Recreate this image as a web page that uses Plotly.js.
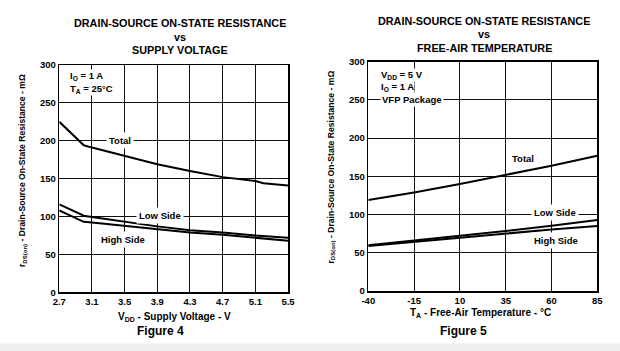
<!DOCTYPE html>
<html>
<head>
<meta charset="utf-8">
<script src="https://cdn.plot.ly/plotly-3.0.1.min.js"></script>
<style>html,body{margin:0;padding:0;background:#fff;}#chart{width:620px;height:351px;}</style>
</head>
<body>
<div id="chart"></div>
<script>
// Figure 4: r_DS(on) vs supply voltage
const vdd = [2.7, 3.0, 3.1, 3.5, 3.9, 4.3, 4.7, 5.1, 5.2, 5.5];
const vddTotal = [225, 194, 191, 180, 169, 160, 152, 147, 144, 141];
const vddLowSide = [116, 101, 99.5, 93, 87, 82, 79, 75, 74, 72];
const vddHighSide = [108, 93, 92, 88, 83, 79, 76, 72, 70.5, 68];
const vddTicks = [2.7, 3.1, 3.5, 3.9, 4.3, 4.7, 5.1, 5.5];

// Figure 5: r_DS(on) vs free-air temperature
const temp = [-40, -15, 10, 35, 60, 85];
const tempTotal = [119, 129, 140, 152, 164, 177];
const tempLowSide = [60, 66, 72, 78.5, 85.5, 93];
const tempHighSide = [59, 64.5, 70, 75.5, 80.5, 85];
const tempTicks = [-40, -15, 10, 35, 60, 85];

const yTicks = [0, 50, 100, 150, 200, 250, 300];

const FONT = 'Liberation Sans, Arial, Helvetica, sans-serif';
const W = 620, H = 351;
const px = v => v / W;
const py = v => 1 - v / H;

const line = {color: '#000', width: 2};
function tr(x, y, xa, ya) {
  return {x: x, y: y, xaxis: xa, yaxis: ya, mode: 'lines', line: line, hoverinfo: 'skip', showlegend: false};
}
const data = [
  tr(vdd, vddTotal, 'x', 'y'),
  tr(vdd, vddLowSide, 'x', 'y'),
  tr(vdd, vddHighSide, 'x', 'y'),
  tr(temp, tempTotal, 'x2', 'y2'),
  tr(temp, tempLowSide, 'x2', 'y2'),
  tr(temp, tempHighSide, 'x2', 'y2')
];

const tickFont = {family: FONT, size: 9.5, color: '#000', weight: 'bold'};
function xax(domain, range, ticks, anchor, fmt) {
  return {domain: domain, range: range, tickvals: ticks, ticktext: ticks.map(fmt),
    showgrid: true, gridcolor: '#111', gridwidth: 1, zeroline: false,
    showline: true, mirror: true, linecolor: '#000', linewidth: 1.5,
    ticks: '', tickfont: tickFont, anchor: anchor, fixedrange: true};
}
function yax(domain, anchor) {
  return {domain: domain, range: [0, 300], tickvals: yTicks, ticktext: yTicks.map(String),
    showgrid: true, gridcolor: '#111', gridwidth: 1, zeroline: false,
    showline: true, mirror: true, linecolor: '#000', linewidth: 1.5,
    ticks: '', tickfont: tickFont, anchor: anchor, fixedrange: true};
}

function ann(text, x, y, opts) {
  return Object.assign({text: text, x: x, y: y, xref: 'paper', yref: 'paper', showarrow: false,
    xanchor: 'center', yanchor: 'middle',
    font: {family: FONT, size: 10.8, color: '#000', weight: 'bold'}}, opts || {});
}
const lblFont = {family: FONT, size: 9.5, color: '#000', weight: 'bold'};
function dlbl(text, x, y, xr, yr, opts) {
  return Object.assign({text: text, x: x, y: y, xref: xr, yref: yr, showarrow: false,
    xanchor: 'center', yanchor: 'middle', bgcolor: '#fff', borderpad: 2, font: lblFont}, opts || {});
}

const yTitle = 'r<sub>DS(on)</sub> - Drain-Source On-State Resistance - mΩ';
const yTitleFont = {family: FONT, size: 8.6, color: '#000', weight: 'bold'};
const annotations = [
  // titles
  ann('DRAIN-SOURCE ON-STATE RESISTANCE', px(180), py(23.3)),
  ann('vs', px(180), py(36.7)),
  ann('SUPPLY VOLTAGE', px(180), py(50)),
  ann('DRAIN-SOURCE ON-STATE RESISTANCE', px(484), py(20.7)),
  ann('vs', px(484), py(34)),
  ann('FREE-AIR TEMPERATURE', px(484), py(47.7)),
  // y titles
  ann(yTitle, px(22), py(171), {textangle: -90, font: yTitleFont}),
  ann(yTitle, px(331), py(166.5), {textangle: -90, font: yTitleFont}),
  // x titles
  ann('V<sub>DD</sub> - Supply Voltage - V', px(174), py(316.7), {font: {family: FONT, size: 10, color: '#000', weight: 'bold'}}),
  ann('T<sub>A</sub> - Free-Air Temperature - °C', px(480), py(313.3), {font: {family: FONT, size: 10, color: '#000', weight: 'bold'}}),
  ann('Figure 4', px(160), py(330.7), {font: {family: FONT, size: 12, color: '#000', weight: 'bold'}}),
  ann('Figure 5', px(463), py(330.7), {font: {family: FONT, size: 12, color: '#000', weight: 'bold'}}),
  // curve labels fig 4
  dlbl('Total', 3.44, 200, 'x', 'y'),
  dlbl('Low Side', 3.93, 101, 'x', 'y'),
  dlbl('High Side', 3.48, 70, 'x', 'y'),
  // conditions fig 4
  dlbl('I<sub>O</sub> = 1 A', 2.82, 285.5, 'x', 'y', {xanchor: 'left', borderpad: 0}),
  dlbl('T<sub>A</sub> = 25°C', 2.82, 268, 'x', 'y', {xanchor: 'left', borderpad: 0}),
  // curve labels fig 5
  dlbl('Total', 44.6, 173.7, 'x2', 'y2'),
  dlbl('Low Side', 61.9, 102.5, 'x2', 'y2'),
  dlbl('High Side', 62.5, 66, 'x2', 'y2'),
  // conditions fig 5
  dlbl('V<sub>DD</sub> = 5 V', -33.6, 282.7, 'x2', 'y2', {xanchor: 'left', borderpad: 0}),
  dlbl('I<sub>O</sub> = 1 A', -33.6, 266.6, 'x2', 'y2', {xanchor: 'left', borderpad: 0}),
  dlbl('VFP Package', -33.6, 251, 'x2', 'y2', {xanchor: 'left', borderpad: 1})
];

const layout = {
  width: W, height: H,
  margin: {l: 0, r: 0, t: 0, b: 0},
  paper_bgcolor: '#fff', plot_bgcolor: '#fff',
  showlegend: false,
  xaxis: xax([px(59.3), px(288)], [2.7, 5.5], vddTicks, 'y', v => v.toFixed(1)),
  yaxis: yax([1 - 292.3 / H, 1 - 65 / H], 'x'),
  xaxis2: xax([px(368.3), px(597.3)], [-40, 85], tempTicks, 'y2', v => String(v)),
  yaxis2: yax([1 - 291 / H, 1 - 61.7 / H], 'x2'),
  annotations: annotations,
  shapes: [
    {type: 'rect', xref: 'paper', yref: 'paper', x0: 0, x1: 1, y0: 0, y1: 1 - 343.5 / H,
     fillcolor: '#eeeeee', line: {width: 0}, layer: 'below'}
  ]
};

Plotly.newPlot('chart', data, layout, {staticPlot: true, displayModeBar: false});
</script>
</body>
</html>
